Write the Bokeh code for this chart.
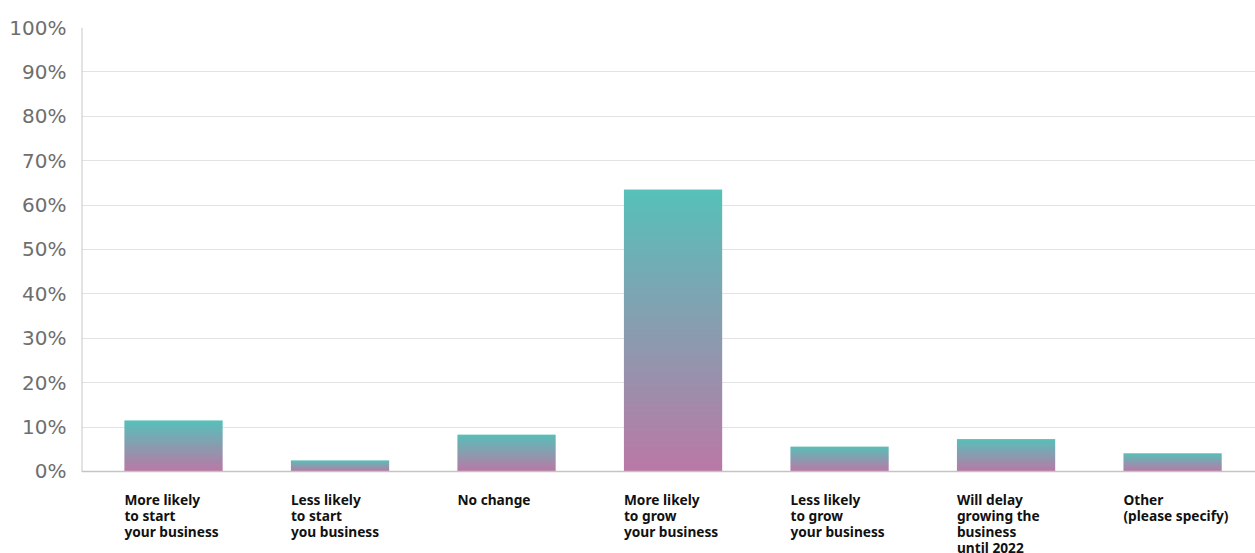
import numpy as np
from bokeh.plotting import figure
from bokeh.models import Range1d, FixedTicker, Span, ColumnDataSource
from bokeh.core.properties import value
from bokeh.embed import file_html
from bokeh.resources import INLINE

categories = [
    "More likely\nto start\nyour business",
    "Less likely\nto start\nyou business",
    "No change",
    "More likely\nto grow\nyour business",
    "Less likely\nto grow\nyour business",
    "Will delay\ngrowing the\nbusiness\nuntil 2022",
    "Other\n(please specify)",
]
values = [11.5, 2.5, 8.3, 63.5, 5.6, 7.3, 4.1]
tick_values = list(range(0, 101, 10))
tick_labels = {t: f"{t}%" for t in tick_values}

TOP = (86, 193, 185)
BOTTOM = (187, 120, 166)
N_ROWS = 128
BAR_W = 0.59

# vertical gradient image (row 0 = bottom)
t = (np.arange(N_ROWS) + 0.5) / N_ROWS
grad = np.zeros((N_ROWS, 1), dtype=np.uint32)
view = grad.view(dtype=np.uint8).reshape((N_ROWS, 1, 4))
for k in range(3):
    view[:, 0, k] = np.round(BOTTOM[k] + (TOP[k] - BOTTOM[k]) * t).astype(np.uint8)
view[:, 0, 3] = 255

p = figure(width=1255, height=553, output_backend="svg", toolbar_location=None,
           x_range=Range1d(-0.5526, 6.498), y_range=Range1d(-18.47, 100),
           min_border_left=81, min_border_right=0, min_border_top=27, min_border_bottom=0)
p.outline_line_color = None
p.background_fill_color = "white"
p.xaxis.visible = False
p.xgrid.visible = False

p.yaxis.ticker = FixedTicker(ticks=tick_values)
p.yaxis.major_label_overrides = tick_labels
p.yaxis.axis_line_color = None
p.yaxis.major_tick_line_color = None
p.yaxis.minor_tick_line_color = None
p.yaxis.major_label_standoff = 9
p.yaxis.major_label_text_font = "DejaVu Sans"
p.yaxis.major_label_text_font_size = "20px"
p.yaxis.major_label_text_color = "#6e6e6e"
p.ygrid.ticker = FixedTicker(ticks=tick_values[1:])
p.ygrid.grid_line_color = "#e3e3e3"
p.ygrid.grid_line_width = 1

# gradient bars: one stretched gradient image per bar
src = ColumnDataSource(dict(
    image=[grad] * len(values),
    x=[i - BAR_W / 2 for i in range(len(values))],
    y=[0] * len(values),
    dw=[BAR_W] * len(values),
    dh=values,
))
p.image_rgba(image="image", x="x", y="y", dw="dw", dh="dh", source=src)

# baseline and left axis line
p.add_layout(Span(location=0, dimension="width", line_color="#c4c4c4", line_width=1.5))
p.segment(x0=[p.x_range.start], x1=[p.x_range.start], y0=[0], y1=[100],
          line_color="#c8c8c8", line_width=2)

# category labels
lab = ColumnDataSource(dict(x=[i - BAR_W / 2 for i in range(len(categories))],
                            y=[-4.15] * len(categories), text=categories))
p.text(x="x", y="y", text="text", source=lab, text_font=value("Noto Sans"),
       text_font_style="bold", text_font_size="13.7px", text_color="#111111",
       text_align="left", text_baseline="top", text_line_height=0.84)

open("out.html", "w").write(file_html(p, INLINE))
